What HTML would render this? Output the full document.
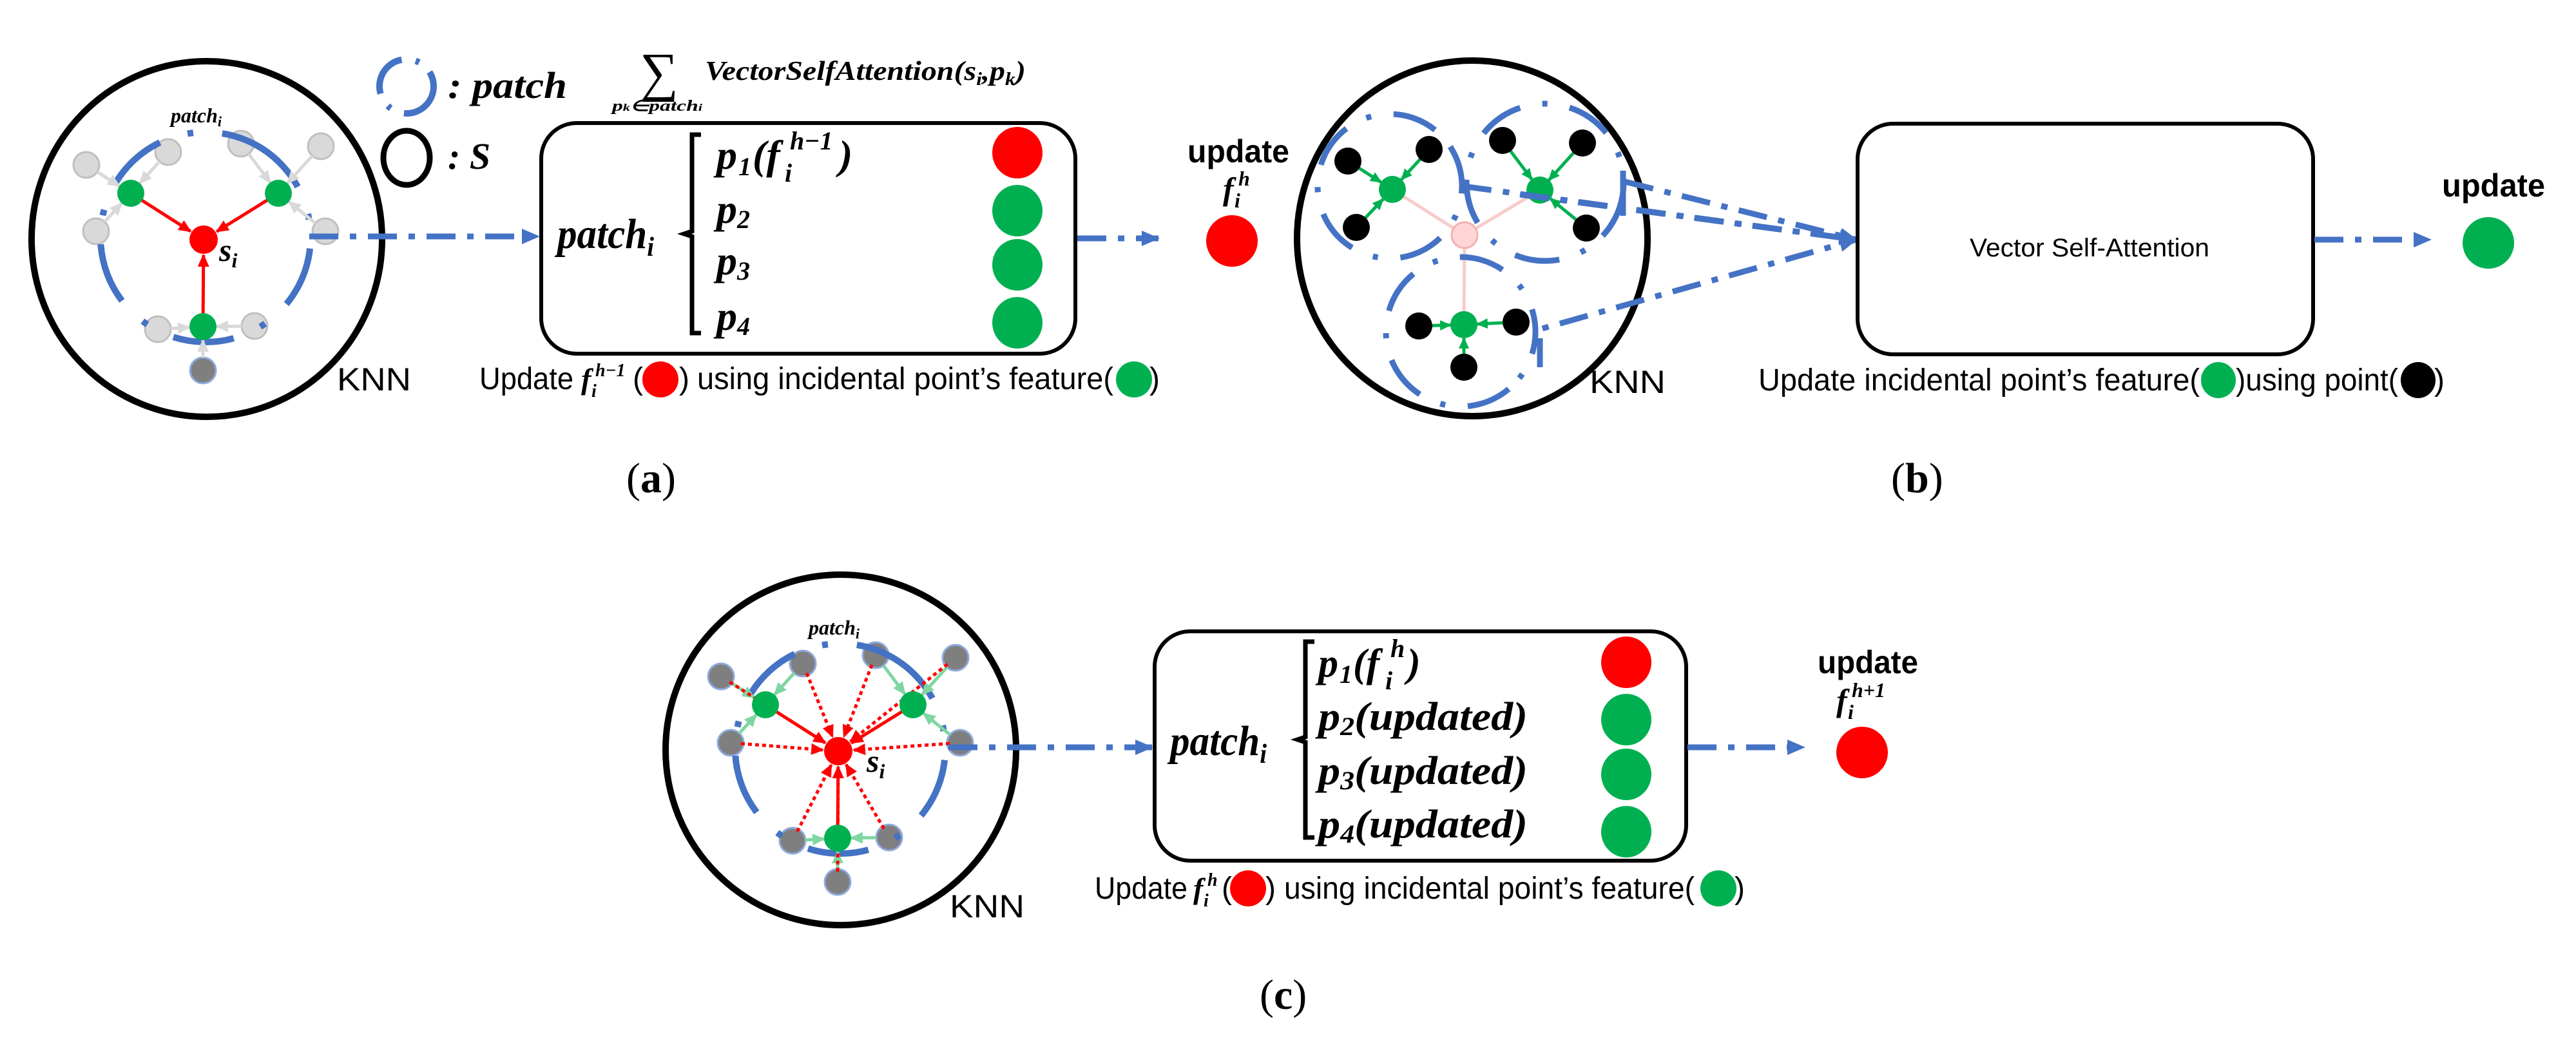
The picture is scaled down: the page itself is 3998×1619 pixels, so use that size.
<!DOCTYPE html>
<html><head><meta charset="utf-8"><style>
html,body{margin:0;padding:0;background:#fff;}
svg{display:block;}
.m{font-family:"Liberation Serif",serif;font-style:italic;font-weight:bold;fill:#000;}
.s{font-family:"Liberation Sans Narrow","Liberation Sans",sans-serif;fill:#000;}
.cap{font-family:"Liberation Serif",serif;fill:#000;}
</style></head><body>
<svg id="svg" width="3998" height="1619" viewBox="0 0 3998 1619" xmlns="http://www.w3.org/2000/svg">
<defs>
<marker id="ab" markerWidth="30" markerHeight="30" refX="26" refY="15" orient="auto" markerUnits="userSpaceOnUse"><path d="M0,3 L28,15 L0,27 z" fill="#4472C4"/></marker>
<marker id="ar" markerWidth="20" markerHeight="20" refX="18" refY="10" orient="auto" markerUnits="userSpaceOnUse"><path d="M0,1 L20,10 L0,19 z" fill="#FF0000"/></marker>
<marker id="ag" markerWidth="20" markerHeight="20" refX="18" refY="10" orient="auto" markerUnits="userSpaceOnUse"><path d="M0,1 L20,10 L0,19 z" fill="#D9D9D9"/></marker>
<marker id="alg" markerWidth="20" markerHeight="20" refX="18" refY="10" orient="auto" markerUnits="userSpaceOnUse"><path d="M0,1 L20,10 L0,19 z" fill="#7FD6A2"/></marker>
<marker id="agr" markerWidth="18" markerHeight="18" refX="16" refY="9" orient="auto" markerUnits="userSpaceOnUse"><path d="M0,1 L18,9 L0,17 z" fill="#00B050"/></marker>
</defs>

<!-- ============ (a) ============ -->
<ellipse cx="321" cy="371" rx="272" ry="276" fill="none" stroke="#000" stroke-width="10"/>
<g id="ga"></g>
<text x="265" y="190" class="m" font-size="32">patch<tspan font-size="22" dy="6">i</tspan></text>
<text x="340" y="405" class="m" font-size="50">s<tspan font-size="32" dy="10">i</tspan></text>
<text x="523" y="606" class="s" font-size="50" textLength="115" lengthAdjust="spacingAndGlyphs">KNN</text>

<!-- legend -->
<circle cx="631" cy="134" r="42" fill="none" stroke="#4472C4" stroke-width="10" stroke-dasharray="70 22 6 22"/>
<text x="695" y="152" class="m" font-size="58" textLength="185" lengthAdjust="spacingAndGlyphs">: patch</text>
<ellipse cx="631" cy="245" rx="36" ry="42" fill="none" stroke="#000" stroke-width="9"/>
<text x="695" y="262" class="m" font-size="58">: S</text>

<!-- sum formula -->
<text x="993" y="140" font-family="Liberation Serif,serif" font-size="84" fill="#000">∑</text>
<text x="950" y="172" class="m" font-size="24" textLength="140" lengthAdjust="spacingAndGlyphs">p<tspan font-size="16">k</tspan>∈patch<tspan font-size="16">i</tspan></text>
<text x="1094" y="124" class="m" font-size="42" textLength="498" lengthAdjust="spacingAndGlyphs">VectorSelfAttention(s<tspan font-size="28" dy="8">i</tspan><tspan dy="-8">,p</tspan><tspan font-size="28" dy="8">k</tspan><tspan dy="-8">)</tspan></text>

<!-- box a -->
<rect x="840" y="191" width="829" height="358" rx="55" fill="none" stroke="#000" stroke-width="6"/>
<text x="865" y="385" class="m" font-size="66" textLength="150" lengthAdjust="spacingAndGlyphs">patch<tspan font-size="42" dy="12">i</tspan></text>
<path d="M1088,209 h-14 v150 l-12,4 l12,4 v150 h14" fill="none" stroke="#000" stroke-width="7"/>
<text class="m" font-size="64"><tspan x="1112" y="262">p</tspan><tspan x="1146" y="272" font-size="40">1</tspan><tspan x="1168" y="262">(f</tspan><tspan x="1226" y="232" font-size="40">h−1</tspan><tspan x="1218" y="282" font-size="40">i</tspan><tspan x="1302" y="262">)</tspan></text>
<text x="1112" y="346" class="m" font-size="64">p<tspan font-size="40" dy="8">2</tspan></text>
<text x="1112" y="426" class="m" font-size="64">p<tspan font-size="40" dy="8">3</tspan></text>
<text x="1112" y="512" class="m" font-size="64">p<tspan font-size="40" dy="8">4</tspan></text>
<ellipse cx="1579" cy="237" rx="39" ry="40" fill="#FF0000"/>
<ellipse cx="1579" cy="327" rx="39" ry="40" fill="#00B050"/>
<ellipse cx="1579" cy="411" rx="39" ry="40" fill="#00B050"/>
<ellipse cx="1579" cy="501" rx="39" ry="40" fill="#00B050"/>

<line x1="480" y1="367" x2="836" y2="367" stroke="#4472C4" stroke-width="9" stroke-dasharray="45 18 10 18" marker-end="url(#ab)"/>
<line x1="1672" y1="370" x2="1798" y2="370" stroke="#4472C4" stroke-width="9" stroke-dasharray="45 18 10 18" marker-end="url(#ab)"/>

<text x="1843" y="252" font-family="Liberation Sans,sans-serif" font-weight="bold" font-size="50" textLength="158" lengthAdjust="spacingAndGlyphs">update</text>
<text class="m" font-size="50"><tspan x="1898" y="310">f</tspan><tspan x="1922" y="288" font-size="32">h</tspan><tspan x="1916" y="322" font-size="32">i</tspan></text>
<circle cx="1912" cy="374" r="40" fill="#FF0000"/>

<text x="744" y="604" class="s" font-size="48" textLength="146" lengthAdjust="spacingAndGlyphs">Update</text>
<text class="m" font-size="46" font-weight="normal"><tspan x="902" y="604">f</tspan><tspan x="924" y="584" font-size="28">h−1</tspan><tspan x="918" y="616" font-size="28">i</tspan></text>
<text x="982" y="604" class="s" font-size="48">(</text>
<ellipse cx="1025" cy="589" rx="28" ry="28" fill="#FF0000"/>
<text x="1054" y="604" class="s" font-size="48">)</text>
<text x="1082" y="604" class="s" font-size="48" textLength="646" lengthAdjust="spacingAndGlyphs">using incidental point’s feature(</text>
<ellipse cx="1760" cy="589" rx="28" ry="28" fill="#00B050"/>
<text x="1784" y="604" class="s" font-size="48">)</text>

<text x="972" y="764" class="cap" font-size="66">(<tspan font-weight="bold">a</tspan>)</text>

<!-- ============ (b) ============ -->
<ellipse cx="2285" cy="370" rx="272" ry="276" fill="none" stroke="#000" stroke-width="10"/>
<g id="gb"></g>
<text x="2467" y="610" class="s" font-size="50" textLength="118" lengthAdjust="spacingAndGlyphs">KNN</text>

<rect x="2883" y="192" width="707" height="358" rx="55" fill="none" stroke="#000" stroke-width="6"/>
<text x="3057" y="398" class="s" font-size="40" textLength="372" lengthAdjust="spacingAndGlyphs">Vector Self-Attention</text>
<line x1="3592" y1="372" x2="3772" y2="372" stroke="#4472C4" stroke-width="9" stroke-dasharray="45 18 10 18" marker-end="url(#ab)"/>
<text x="3790" y="305" font-family="Liberation Sans,sans-serif" font-weight="bold" font-size="50" textLength="160" lengthAdjust="spacingAndGlyphs">update</text>
<circle cx="3862" cy="377" r="40" fill="#00B050"/>

<text x="2729" y="606" class="s" font-size="48" textLength="685" lengthAdjust="spacingAndGlyphs">Update incidental point’s feature(</text>
<ellipse cx="3443" cy="590" rx="27" ry="28" fill="#00B050"/>
<text x="3470" y="606" class="s" font-size="48" textLength="252" lengthAdjust="spacingAndGlyphs">)using point(</text>
<ellipse cx="3753" cy="590" rx="27" ry="28" fill="#000"/>
<text x="3778" y="606" class="s" font-size="48">)</text>
<text x="2935" y="764" class="cap" font-size="66">(<tspan font-weight="bold">b</tspan>)</text>

<!-- ============ (c) ============ -->
<ellipse cx="1305" cy="1164" rx="272" ry="272" fill="none" stroke="#000" stroke-width="10"/>
<g id="gc"></g>
<text x="1255" y="985" class="m" font-size="32">patch<tspan font-size="22" dy="6">i</tspan></text>
<text x="1345" y="1198" class="m" font-size="50">s<tspan font-size="32" dy="10">i</tspan></text>
<text x="1474" y="1424" class="s" font-size="50" textLength="116" lengthAdjust="spacingAndGlyphs">KNN</text>

<rect x="1792" y="980" width="825" height="356" rx="55" fill="none" stroke="#000" stroke-width="6"/>
<text x="1816" y="1172" class="m" font-size="66" textLength="150" lengthAdjust="spacingAndGlyphs">patch<tspan font-size="42" dy="12">i</tspan></text>
<path d="M2040,996 h-14 v148 l-12,4 l12,4 v148 h14" fill="none" stroke="#000" stroke-width="7"/>
<text class="m" font-size="62"><tspan x="2046" y="1050">p</tspan><tspan x="2079" y="1060" font-size="40">1</tspan><tspan x="2100" y="1050">(f</tspan><tspan x="2158" y="1020" font-size="40">h</tspan><tspan x="2150" y="1070" font-size="40">i</tspan><tspan x="2184" y="1050">)</tspan></text>
<text x="2046" y="1133" class="m" font-size="62" textLength="325" lengthAdjust="spacingAndGlyphs">p<tspan font-size="40" dy="8">2</tspan><tspan dy="-8">(updated)</tspan></text>
<text x="2046" y="1217" class="m" font-size="62" textLength="325" lengthAdjust="spacingAndGlyphs">p<tspan font-size="40" dy="8">3</tspan><tspan dy="-8">(updated)</tspan></text>
<text x="2046" y="1300" class="m" font-size="62" textLength="325" lengthAdjust="spacingAndGlyphs">p<tspan font-size="40" dy="8">4</tspan><tspan dy="-8">(updated)</tspan></text>
<ellipse cx="2524" cy="1028" rx="39" ry="40" fill="#FF0000"/>
<ellipse cx="2524" cy="1117" rx="39" ry="40" fill="#00B050"/>
<ellipse cx="2524" cy="1202" rx="39" ry="40" fill="#00B050"/>
<ellipse cx="2524" cy="1291" rx="39" ry="40" fill="#00B050"/>

<line x1="1472" y1="1160" x2="1788" y2="1160" stroke="#4472C4" stroke-width="9" stroke-dasharray="45 18 10 18" marker-end="url(#ab)"/>
<line x1="2619" y1="1160" x2="2800" y2="1160" stroke="#4472C4" stroke-width="9" stroke-dasharray="45 18 10 18" marker-end="url(#ab)"/>

<text x="2821" y="1045" font-family="Liberation Sans,sans-serif" font-weight="bold" font-size="50" textLength="156" lengthAdjust="spacingAndGlyphs">update</text>
<text class="m" font-size="50" font-weight="normal"><tspan x="2850" y="1104">f</tspan><tspan x="2874" y="1082" font-size="32">h+1</tspan><tspan x="2868" y="1116" font-size="32">i</tspan></text>
<circle cx="2890" cy="1168" r="40" fill="#FF0000"/>

<text x="1699" y="1395" class="s" font-size="48" textLength="144" lengthAdjust="spacingAndGlyphs">Update</text>
<text class="m" font-size="46" font-weight="normal"><tspan x="1852" y="1395">f</tspan><tspan x="1874" y="1375" font-size="28">h</tspan><tspan x="1868" y="1407" font-size="28">i</tspan></text>
<text x="1896" y="1395" class="s" font-size="48">(</text>
<ellipse cx="1937" cy="1379" rx="28" ry="28" fill="#FF0000"/>
<text x="1964" y="1395" class="s" font-size="48">)</text>
<text x="1993" y="1395" class="s" font-size="48" textLength="637" lengthAdjust="spacingAndGlyphs">using incidental point’s feature(</text>
<ellipse cx="2667" cy="1379" rx="28" ry="28" fill="#00B050"/>
<text x="2692" y="1395" class="s" font-size="48">)</text>

<text x="1955" y="1566" class="cap" font-size="66">(<tspan font-weight="bold">c</tspan>)</text>
</svg>

<script>
(function(){
var NS="http://www.w3.org/2000/svg";
function el(p,tag,a){var e=document.createElementNS(NS,tag);for(var k in a)e.setAttribute(k,a[k]);p.appendChild(e);return e;}
function arrow(p,a,b,ra,rb,col,w,mk,dash){
  var dx=b[0]-a[0],dy=b[1]-a[1],L=Math.sqrt(dx*dx+dy*dy),ux=dx/L,uy=dy/L;
  var at={x1:a[0]+ux*ra,y1:a[1]+uy*ra,x2:b[0]-ux*rb,y2:b[1]-uy*rb,stroke:col,"stroke-width":w};
  if(mk)at["marker-end"]="url(#"+mk+")";
  if(dash)at["stroke-dasharray"]=dash;
  el(p,"line",at);
}
var C={red:[1301,1166],g:[[1188,1094],[1417,1094],[1300,1301]],
 grey:[[1119,1050,0],[1246,1030,0],[1134,1153,0],[1359,1017,1],[1483,1021,1],[1490,1153,1],[1230,1305,2],[1380,1300,2],[1300,1369,2]],
 pc:[1304,1162]};
function draw(gid,dx,dy,mode){
  var g=document.getElementById(gid);
  function P(p){return [p[0]+dx,p[1]+dy];}
  var red=P(C.red);
  C.grey.forEach(function(n,i){
    var p=P(n);var fill,st;
    if(mode=="a"){fill=(i==8)?"#7F7F7F":"#D9D9D9";st=(i==8)?"#8EA9DB":"#BFBFBF";}
    else{fill="#7F7F7F";st="#8EA9DB";}
    el(g,"circle",{cx:p[0],cy:p[1],r:20,fill:fill,stroke:st,"stroke-width":3});
  });
  var pc=P(C.pc);
  el(g,"circle",{cx:pc[0],cy:pc[1],r:163,fill:"none",stroke:"#4472C4","stroke-width":10,"stroke-dasharray":"95 45 9 45",transform:"rotate(-62 "+pc[0]+" "+pc[1]+")"});
  C.grey.forEach(function(n){
    var p=P(n),t=P(C.g[n[2]]);
    arrow(g,p,t,20,21,mode=="a"?"#D9D9D9":"#7FD6A2",5,mode=="a"?"ag":"alg");
  });
  if(mode=="c"){
    C.grey.forEach(function(n){arrow(g,P(n),red,16,24,"#FF0000",5,"ar","6 5");});
  }
  C.g.forEach(function(n){
    var p=P(n);
    arrow(g,p,red,18,24,"#FF0000",5,"ar");
  });
  C.g.forEach(function(n){var p=P(n);el(g,"circle",{cx:p[0],cy:p[1],r:21,fill:"#00B050"});});
  el(g,"circle",{cx:red[0],cy:red[1],r:22,fill:"#FF0000"});
}
draw("ga",-985,-794,"a");
draw("gc",0,0,"c");

var gb=document.getElementById("gb");
var pink=[2273,365];
var G=[[2161,294],[2390,295],[2272,504]];
var B=[[2092,250,0],[2218,232,0],[2105,353,0],[2332,218,1],[2456,222,1],[2462,354,1],[2202,506,2],[2353,500,2],[2272,570,2]];
G.forEach(function(p){arrow(gb,p,pink,20,20,"#F8CBCB",5);});
el(gb,"circle",{cx:pink[0],cy:pink[1],r:20,fill:"#FFD5D5",stroke:"#F4B0B0","stroke-width":3});
[[2157,289,112],[2398,283,122],[2267,515,116]].forEach(function(c,i){
  el(gb,"circle",{cx:c[0],cy:c[1],r:c[2],fill:"none",stroke:"#4472C4","stroke-width":9,"stroke-dasharray":"70 35 8 35",transform:"rotate("+(i*40-30)+" "+c[0]+" "+c[1]+")"});
});
B.forEach(function(n){arrow(gb,n,G[n[2]],20,21,"#00B050",5,"agr");});
B.forEach(function(n){el(gb,"circle",{cx:n[0],cy:n[1],r:21,fill:"#000"});});
G.forEach(function(p){el(gb,"circle",{cx:p[0],cy:p[1],r:21,fill:"#00B050"});});
var tip=[2881,372];
[[2270,289],[2359,302],[2522,282]].forEach(function(s){
  el(gb,"line",{x1:s[0],y1:s[1],x2:tip[0],y2:tip[1],stroke:"#4472C4","stroke-width":9,"stroke-dasharray":"45 18 10 18","marker-end":"url(#ab)"});
});
el(gb,"polyline",{points:"2390,570 2390,511 "+tip[0]+","+tip[1],fill:"none",stroke:"#4472C4","stroke-width":9,"stroke-dasharray":"45 18 10 18","marker-end":"url(#ab)"});
el(gb,"line",{x1:2519,y1:265,x2:2519,y2:335,stroke:"#4472C4","stroke-width":9});
})();
</script>
</body></html>
